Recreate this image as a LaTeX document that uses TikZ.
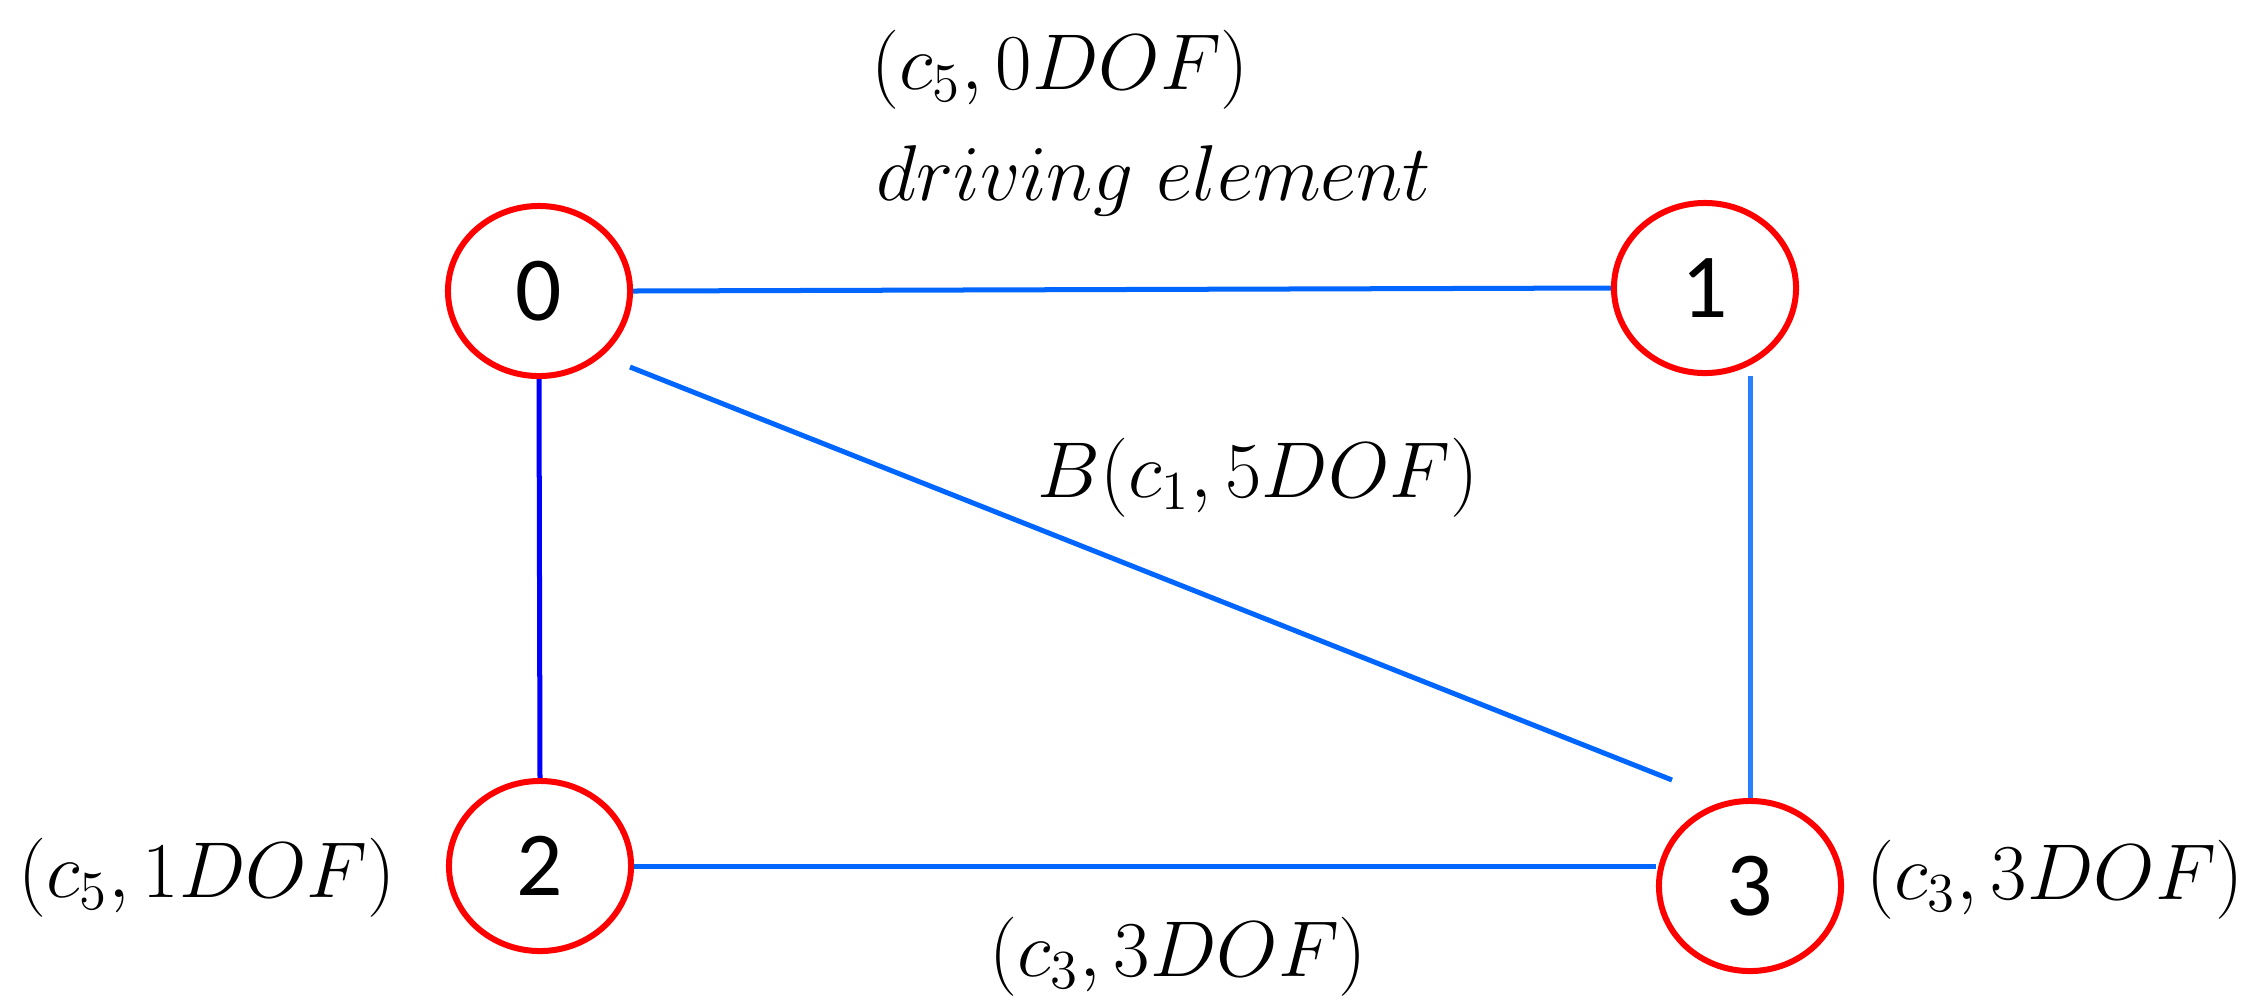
\documentclass[tikz,border=0pt]{standalone}
\usepackage{fontspec}
\newfontfamily\nodefont{Carlito}
\usetikzlibrary{shapes.geometric,calc}
\definecolor{edgeblue}{RGB}{0,102,255}
\definecolor{edgeblueb}{RGB}{40,128,255}
\definecolor{vertblue}{RGB}{0,0,255}
\definecolor{nodered}{RGB}{255,0,0}
\newcommand{\mylbl}[1]{\scalebox{1.085}{$#1$}}
\tikzset{
  vertex/.style={ellipse, draw=nodered, line width=0.06cm, minimum width=1.82cm, minimum height=1.70cm, inner sep=0pt, font=\nodefont\fontsize{26}{30}\selectfont},
  link/.style={draw=edgeblue, line width=0.05cm},
  lbl/.style={font=\huge, inner sep=0pt}
}
\begin{document}
\begin{tikzpicture}[x=0.01cm,y=-0.01cm]
\useasboundingbox (0,0) rectangle (2260,996);
\node[vertex] (n0) at (539,291) {0};
\node[vertex] (n1) at (1705,288) {1};
\node[vertex] (n2) at (540,866) {2};
\node[vertex] (n3) at (1750,886) {3};
\coordinate (d0) at ($(n0)+(91,76)$);
\coordinate (d3) at ($(n3)+(-78,-106)$);
\draw[link] (n0.east) -- (n1.west);
\draw[link, draw=vertblue] (n0.south) -- (n2.north);
\draw[link] (d0) -- (d3);
\draw[link, draw=edgeblueb] (n3.north |- n1.south) -- (n3.north);
\draw[link] (n2.east) -- (n2.east -| n3.west);
\node[lbl] (t0) at (1060,70) {\mylbl{(c_5, 0DOF)}};
\node[lbl] (t1) at (1154,181) {\mylbl{driving\ element}};
\node[lbl] (tB) at (1258,478) {\mylbl{B(c_1, 5DOF)}};
\node[lbl] (t2) at (207,878) {\mylbl{(c_5, 1DOF)}};
\node[lbl] (tb) at (1178,957) {\mylbl{(c_3, 3DOF)}};
\node[lbl] (t3) at (2055,880) {\mylbl{(c_3, 3DOF)}};
\end{tikzpicture}
\end{document}
